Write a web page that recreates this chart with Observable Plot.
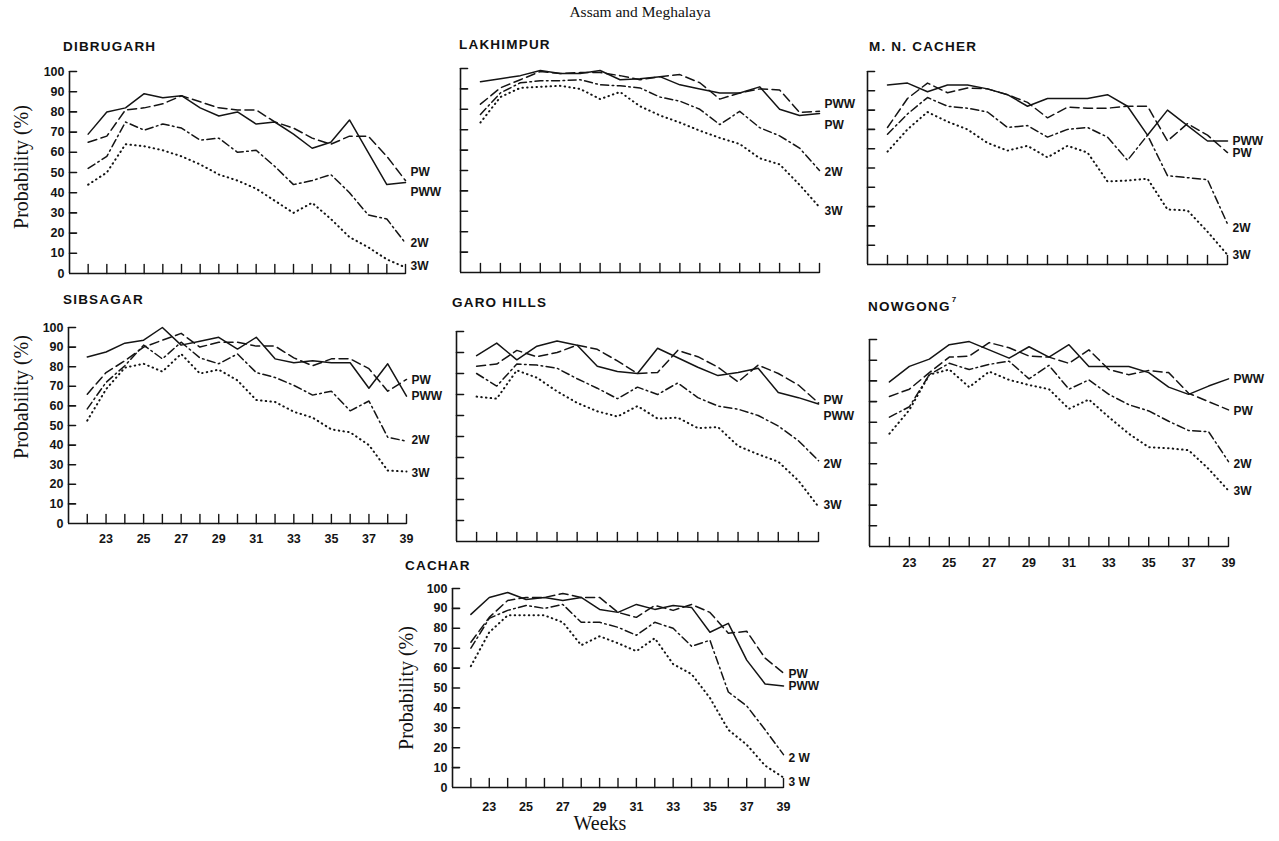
<!DOCTYPE html>
<html>
<head>
<meta charset="utf-8">
<script src="https://cdn.jsdelivr.net/npm/d3@7"></script>
<script src="https://cdn.jsdelivr.net/npm/@observablehq/plot@0.6"></script>
<style>
  html,body{margin:0;padding:0;background:#fff;}
  #root{position:relative;width:1279px;height:841px;background:#fff;overflow:hidden;}
  .lbl{position:absolute;white-space:nowrap;color:#111;line-height:1;}
  .ptitle{font-family:"Liberation Sans",Arial,sans-serif;font-weight:bold;font-size:13.5px;letter-spacing:1.2px;}
  .serif{font-family:"Liberation Serif","Times New Roman",serif;}
  .panel{position:absolute;}
</style>
</head>
<body>
<div id="root"></div>
<script>
// ---------- data (weeks 22..39) ----------
const weeks = [22,23,24,25,26,27,28,29,30,31,32,33,34,35,36,37,38,39];
const yTickValues = [10,20,30,40,50,60,70,80,90,100];
const yTickLabels = [0,10,20,30,40,50,60,70,80,90,100];
const xTickLabels = [23,25,27,29,31,33,35,37,39];

const dibrugarhPWW = [69, 80, 82, 89, 87, 88, 82, 78, 80, 74, 75, 69, 62, 65, 76, 60, 44, 45];
const dibrugarhPW  = [65, 68, 81, 82, 84, 88, 85, 82, 81, 81, 75, 72, 67, 64, 68, 68, 58, 46];
const dibrugarh2W  = [52, 58, 75, 71, 74, 72, 66, 67, 60, 61, 53, 44, 46, 49, 40, 29, 27, 15];
const dibrugarh3W  = [44, 50, 64, 63, 61, 58, 54, 49, 46, 42, 36, 30, 35, 27, 18, 13, 7, 3];

const lakhimpurPWW = [93.5, 95, 96.5, 99, 97.5, 97.5, 99, 94.5, 95, 96, 92, 90, 88, 88, 91, 80, 77, 78];
const lakhimpurPW  = [82.5, 90.5, 94.5, 98.5, 97.5, 98, 98, 96.5, 94.5, 96, 97, 93, 85, 88, 90, 89.5, 78.5, 79];
const lakhimpur2W  = [77.5, 88, 93, 94, 94, 94.5, 92, 91.5, 90.5, 86, 84, 80, 72.5, 79, 71, 67, 61, 50];
const lakhimpur3W  = [73.5, 86, 90.5, 91, 91.5, 90, 85, 88.5, 81.5, 77, 73.5, 69.5, 66, 63, 56, 53, 43, 32];

const mnCacherPWW = [93, 94, 89.5, 93, 93, 91, 88, 82, 86, 86, 86, 88, 82, 67, 80, 72, 64, 64];
const mnCacherPW  = [71, 86, 94, 89, 91.5, 91, 88, 84, 76, 81.5, 81, 81, 82, 82, 64, 73, 67, 58];
const mnCacher2W  = [67.5, 78, 86.5, 82, 81, 79, 71, 72, 66, 70, 71, 66, 54, 67, 46, 45, 44, 21];
const mnCacher3W  = [58.5, 70, 79, 74, 70, 63, 59, 61.5, 55.5, 61.5, 58, 43, 43.5, 44.5, 28.5, 28, 17, 5];

const sibsagarPWW = [85, 87.5, 92, 93.5, 100, 91, 93, 95, 89, 95, 84, 82, 83, 82, 82, 69, 81.5, 65];
const sibsagarPW  = [66, 77, 83, 90, 93.5, 97, 90, 92.5, 92.5, 90.5, 90.5, 84.5, 80.5, 84, 84, 79, 67.5, 73.5];
const sibsagar2W  = [58.5, 72, 80.5, 91, 84, 92.5, 84.5, 81.5, 86.5, 77, 74.5, 70.5, 65.5, 67.5, 57.5, 62.5, 44, 42];
const sibsagar3W  = [52.5, 68.5, 79.5, 81.5, 77.5, 86.5, 76.5, 78.5, 73, 63, 62, 57, 54, 48, 46.5, 40, 27, 26.5];

const garoPWW = [88.5, 94.5, 86.5, 93, 95.5, 93.5, 83.5, 81, 80, 92, 87.5, 83, 79, 80.5, 82.5, 71, 68.5, 65.5];
const garoPW  = [83.5, 84.5, 91, 88, 90, 93.5, 91.5, 86, 80, 80.5, 91, 88, 83, 76, 84, 80, 74.5, 66];
const garo2W  = [80, 74, 84.5, 84, 82.5, 77.5, 73, 68, 73.5, 70, 75.5, 68.5, 64.5, 63, 60, 55, 48, 38.5];
const garo3W  = [69, 68, 81.5, 78, 71.5, 66, 62, 59.5, 64.5, 58.5, 59, 54, 54.5, 45.5, 41.5, 38, 29, 16.5];

const nowgongPWW = [79.5, 87, 90.5, 97.5, 99, 95, 91, 96.5, 91.5, 97.5, 87, 87, 87, 84, 77, 73.5, 77.5, 81];
const nowgongPW  = [72.5, 76, 84, 91.5, 92, 98.5, 96, 92, 91.5, 88.5, 95, 85.5, 83, 85, 84, 74, 70, 66];
const nowgong2W  = [62.5, 67.5, 83, 88.5, 85.5, 88, 89.5, 81, 87.5, 76, 80.5, 73.5, 68.5, 65.5, 60.5, 56, 55.5, 41];
const nowgong3W  = [54.5, 66, 83, 85.5, 77, 84.5, 80.5, 78, 76, 66.5, 71, 62.5, 54.5, 48, 47.5, 46.5, 37.5, 27];

const cacharPWW = [87, 95.5, 98, 94.5, 95.5, 94, 95.5, 89.5, 88, 92, 89.5, 91.5, 90.5, 78, 82.5, 64, 52, 51];
const cacharPW  = [73, 85.5, 94, 95.5, 95.5, 97.5, 95.5, 95.5, 88, 85.5, 91.5, 89, 92, 88, 77.5, 78.5, 65, 57.5];
const cachar2W  = [70, 85, 89, 91.5, 90, 92, 83, 83, 80.5, 76.5, 83, 80, 71, 74, 48, 41, 29, 16.5];
const cachar3W  = [61, 78, 86.5, 86.5, 86.5, 83, 71.5, 76, 72.5, 68.5, 75, 62, 57, 45, 29, 21.5, 11, 5];

// end-of-line series labels: [text, series, value]
const dibrugarhLabels = [["PW","PW",50],["PWW","PWW",40.5],["2W","2W",15],["3W","3W",3.5]];
const lakhimpurLabels = [["PWW","PWW",82.5],["PW","PW",72],["2W","2W",49],["3W","3W",30]];
const mnCacherLabels  = [["PWW","PWW",64],["PW","PW",57.5],["2W","2W",19],["3W","3W",5]];
const sibsagarLabels  = [["PW","PW",73],["PWW","PWW",65],["2W","2W",42.5],["3W","3W",25.5]];
const garoLabels      = [["PW","PW",67.5],["PWW","PWW",59.5],["2W","2W",37],["3W","3W",17.5]];
const nowgongLabels   = [["PWW","PWW",81],["PW","PW",65.5],["2W","2W",40],["3W","3W",26.5]];
const cacharLabels    = [["PW","PW",57],["PWW","PWW",51],["2 W","2W",14.5],["3 W","3W",2.5]];

// ---------- styles ----------
const ink = "#141414";
const lineStyles = {
  PWW: {stroke: ink, strokeWidth: 1.5},
  PW:  {stroke: ink, strokeWidth: 1.5, strokeDasharray: "9,4.5"},
  "2W":{stroke: ink, strokeWidth: 1.5, strokeDasharray: "8,3.5,1.6,3.5"},
  "3W":{stroke: ink, strokeWidth: 2, strokeDasharray: "0.5,4.2", strokeLinecap: "round"}
};
const sansFont = '"Liberation Sans", Arial, sans-serif';

const panels = [
  {title:"DIBRUGARH", tx:63, ty:47, xL:69, xR:405, yT:71, yB:273, yLab:true, xLab:false, ylab:[21,167],
   series:{PWW:dibrugarhPWW, PW:dibrugarhPW, "2W":dibrugarh2W, "3W":dibrugarh3W}, labels:dibrugarhLabels},
  {title:"LAKHIMPUR", tx:459, ty:45, xL:460, xR:819, yT:68, yB:272, yLab:false, xLab:false,
   series:{PWW:lakhimpurPWW, PW:lakhimpurPW, "2W":lakhimpur2W, "3W":lakhimpur3W}, labels:lakhimpurLabels},
  {title:"M. N. CACHER", tx:869, ty:47, xL:867, xR:1227, yT:71, yB:264, yLab:false, xLab:false,
   series:{PWW:mnCacherPWW, PW:mnCacherPW, "2W":mnCacher2W, "3W":mnCacher3W}, labels:mnCacherLabels},
  {title:"SIBSAGAR", tx:63, ty:300, xL:68, xR:406, yT:327, yB:523, yLab:true, xLab:true, xDy:15, ylab:[21,397],
   series:{PWW:sibsagarPWW, PW:sibsagarPW, "2W":sibsagar2W, "3W":sibsagar3W}, labels:sibsagarLabels},
  {title:"GARO HILLS", tx:452, ty:303, xL:456, xR:818, yT:331, yB:541, yLab:false, xLab:false,
   series:{PWW:garoPWW, PW:garoPW, "2W":garo2W, "3W":garo3W}, labels:garoLabels},
  {title:"NOWGONG", tx:868, ty:305, sup:"7", xL:869, xR:1228, yT:339, yB:546, yLab:false, xLab:true, xDy:16,
   series:{PWW:nowgongPWW, PW:nowgongPW, "2W":nowgong2W, "3W":nowgong3W}, labels:nowgongLabels},
  {title:"CACHAR", tx:405, ty:566, xL:452, xR:783, yT:588, yB:787, yLab:true, xLab:true, xDy:19, ylab:[406,688],
   series:{PWW:cacharPWW, PW:cacharPW, "2W":cachar2W, "3W":cachar3W}, labels:cacharLabels}
];

const root = document.getElementById("root");
function put(text, x, y, cls, tf, extra) {
  const d = document.createElement("div");
  d.className = "lbl " + cls;
  d.textContent = text;
  d.style.left = x + "px";
  d.style.top = y + "px";
  d.style.transform = tf;
  if (extra) Object.assign(d.style, extra);
  root.appendChild(d);
  return d;
}

const tickShape = {draw(ctx, l) { ctx.moveTo(0, 0); ctx.lineTo(0, -l); }};

function makePanel(p) {
  const mL = 46, mR = 46, mT = 8, mB = 30;
  const width = p.xR - p.xL + mL + mR;
  const height = p.yB - p.yT + mT + mB;
  const marks = [
    Plot.ruleX([21], {y1: 0, y2: 100, stroke: ink, strokeWidth: 1.6}),
    Plot.ruleY([0], {x1: 21, x2: 39, stroke: ink, strokeWidth: 1.6}),
    Plot.vector(yTickValues, {x: 21, y: d => d, rotate: 90, length: 7, anchor: "start", shape: tickShape, stroke: ink, strokeWidth: 1.6}),
    Plot.vector(weeks, {x: d => d, y: 0, rotate: 0, length: 9, anchor: "start", shape: tickShape, stroke: ink, strokeWidth: 1.4})
  ];
  for (const key of ["3W", "2W", "PW", "PWW"]) {
    const vals = p.series[key];
    marks.push(Plot.line(vals, {x: (d, i) => weeks[i], y: d => d, ...lineStyles[key]}));
  }
  if (p.yLab) {
    marks.push(Plot.text(yTickLabels, {x: 21, y: d => d, text: d => String(d), textAnchor: "end", dx: -5,
      fontFamily: sansFont, fontWeight: "bold", fontSize: 12.5, fill: ink}));
  }
  if (p.xLab) {
    marks.push(Plot.text(xTickLabels, {x: d => d, y: 0, text: d => String(d), dy: p.xDy,
      fontFamily: sansFont, fontWeight: "bold", fontSize: 12.5, fill: ink}));
  }
  marks.push(Plot.text(p.labels, {x: 39, y: d => d[2], text: d => d[0], textAnchor: "start", dx: 5,
    fontFamily: sansFont, fontWeight: "bold", fontSize: 12, fill: ink, letterSpacing: 1}));

  const svg = Plot.plot({
    width, height, marginLeft: mL, marginRight: mR, marginTop: mT, marginBottom: mB,
    x: {domain: [21, 39], axis: null},
    y: {domain: [0, 100], axis: null},
    style: {background: "transparent", overflow: "visible", fontFamily: sansFont},
    marks
  });
  const wrap = document.createElement("div");
  wrap.className = "panel";
  wrap.style.left = (p.xL - mL) + "px";
  wrap.style.top = (p.yT - mT) + "px";
  wrap.appendChild(svg);
  root.appendChild(wrap);

  const t = put(p.title, p.tx, p.ty, "ptitle", "translate(0,-50%)");
  if (p.sup) {
    const s = document.createElement("span");
    s.textContent = p.sup;
    s.style.fontSize = "8px";
    s.style.verticalAlign = "9px";
    s.style.letterSpacing = "0";
    s.style.marginLeft = "1px";
    t.appendChild(s);
  }
  if (p.ylab) {
    put("Probability (%)", p.ylab[0], p.ylab[1], "serif", "translate(-50%,-50%) rotate(-90deg)", {fontSize: "20px"});
  }
}

panels.forEach(makePanel);
put("Assam and Meghalaya", 640, 12, "serif", "translate(-50%,-50%)", {fontSize: "15.5px"});
put("Weeks", 600, 823, "serif", "translate(-50%,-50%)", {fontSize: "20px"});
</script>
</body>
</html>
